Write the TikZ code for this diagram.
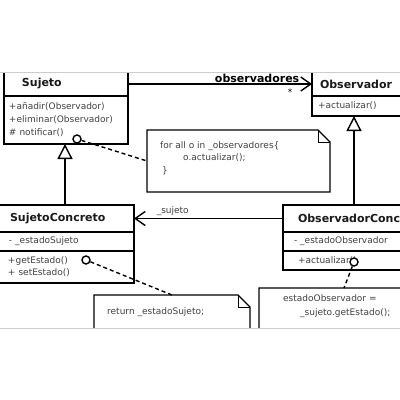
\documentclass[tikz,border=0pt]{standalone}
\usepackage{fontspec}
\setmainfont{DejaVu Sans}
\usetikzlibrary{arrows.meta,positioning}

\begin{document}
\begin{tikzpicture}[
  x=1pt, y=-1pt,
  comp/.style={rectangle, draw, line width=1.4pt, outer sep=0pt, anchor=north west, align=left, inner ysep=0pt, inner xsep=5pt, text=black!75, font=\fontsize{9}{13}\selectfont},
  cname/.style={comp, text=black!90, font=\bfseries\fontsize{11}{13}\selectfont},
  notebox/.style={rectangle, anchor=north west, inner sep=0pt, outer sep=0pt},
  notetext/.style={anchor=north west, align=left, inner sep=0pt, text=black!75, font=\fontsize{9}{12.5}\selectfont},
  assoc/.style={-{Straight Barb[length=10pt,width=14pt]}, line width=1.4pt},
  inherit/.style={-{Triangle[open,length=15pt,width=15pt]}, line width=1.4pt},
  dashline/.style={line width=1.4pt, dash pattern=on 4pt off 3pt},
  dot/.style={circle, draw, line width=1.4pt, fill=white, minimum size=8pt, inner sep=0pt}
]
  \useasboundingbox (0,0) rectangle (400,400);
  \draw[gray!40, line width=0.8pt] (0,72) -- (400,72) (0,328) -- (400,328);

  \begin{scope}
  \clip (0,73) rectangle (400,327);

  \node[cname, text width=88pt, inner xsep=18pt, minimum height=24pt] (sujName) at (4,72) {Sujeto};
  \node[comp, text width=114pt, minimum height=48pt] (sujOps) at (sujName.south west) {+añadir(Observador)\\+eliminar(Observador)\\\# notificar()};

  \node[cname, text width=84pt, inner xsep=8pt, minimum height=24pt] (obsName) at (312,72) {Observador};
  \node[comp, text width=88pt, inner xsep=6pt, minimum height=20pt] (obsOps) at (obsName.south west) {+actualizar()};

  \node[cname, text width=110pt, inner xsep=14pt, minimum height=27pt] (sujcName) at (-4,205) {SujetoConcreto};
  \node[comp, text width=112pt, inner xsep=13pt, minimum height=19pt] (sujcAttr) at (sujcName.south west) {- \_estadoSujeto};
  \node[comp, text width=114pt, inner xsep=12pt, minimum height=32pt, font=\fontsize{9}{12}\selectfont] (sujcOps) at (sujcAttr.south west) {+getEstado()\\+ setEstado()};

  \node[cname, text width=112pt, inner xsep=15pt, minimum height=27pt] (obscName) at (283,205) {ObservadorConcreto};
  \node[comp, text width=120pt, inner xsep=11pt, minimum height=19pt] (obscAttr) at (obscName.south west) {- \_estadoObservador};
  \node[comp, text width=112pt, inner xsep=15pt, minimum height=19pt] (obscOps) at (obscAttr.south west) {+actualizar()};

  \node[notebox, minimum width=183pt, minimum height=62pt] (noteNotify) at (147,130) {};
  \node[notebox, minimum width=156pt, minimum height=50pt] (noteGet) at (94,295) {};
  \node[notebox, minimum width=170pt, minimum height=60pt] (noteUpdate) at (259,288) {};
  \foreach \n in {noteNotify,noteGet,noteUpdate}{
    \draw[line width=1.4pt] (\n.north west) -- ([xshift=-12pt]\n.north east) -- ([yshift=-12pt]\n.north east) -- (\n.south east) -- (\n.south west) -- cycle;
    \draw[line width=0.7pt] ([xshift=-12pt]\n.north east) |- ([yshift=-12pt]\n.north east);
  }
  \node[notetext] (notifyText) at (160,141) {for all o in \_observadores\{\\\hspace*{23pt}o.actualizar();\\\hspace*{2pt}\}};
  \node[notetext] (getText) at (107,307) {return \_estadoSujeto;};
  \node[notetext, font=\fontsize{9}{14}\selectfont] (updateText) at (283,294) {estadoObservador =\\\hspace*{17pt}\_sujeto.getEstado();};

  \draw[assoc] (sujName.east) -- (sujName.east -| obsName.west)
    node[pos=1, anchor=south east, xshift=-11pt, inner sep=1pt, font=\bfseries\fontsize{11}{13}\selectfont] (obsRole) {observadores}
    node[pos=1, anchor=north east, xshift=-18pt, yshift=-3pt, inner sep=1pt, font=\fontsize{9}{11}\selectfont] (obsMult) {*};
  \draw[assoc] (obscName.west) -- (obscName.west -| sujcName.east)
    node[pos=0.74, above, inner sep=2pt, text=black!75, font=\fontsize{9}{11}\selectfont] (sujRole) {\_sujeto};

  \draw[inherit] (sujcName.north) -- (sujcName.north |- sujOps.south);
  \draw[inherit] (obscName.north) -- (obscName.north |- obsOps.south);

  \node[dot] (dotNotify) at (77,139) {};
  \node[dot] (dotGet) at (86,260) {};
  \node[dot] (dotUpdate) at (354,262) {};
  \draw[dashline] (dotNotify) -- (noteNotify.west);
  \draw[dashline] (dotGet) -- (noteGet.north);
  \draw[dashline] (dotUpdate) -- (noteUpdate.north);
  \end{scope}
\end{tikzpicture}
\end{document}
